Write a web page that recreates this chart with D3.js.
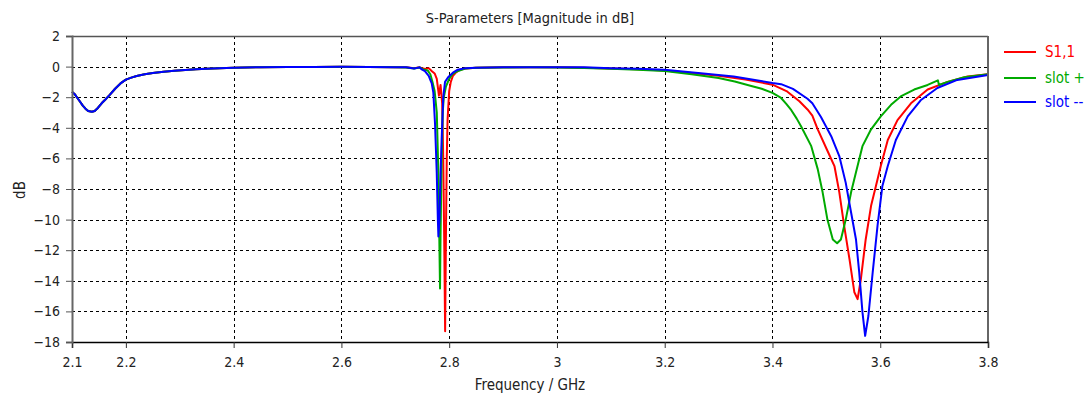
<!DOCTYPE html>
<html>
<head>
<meta charset="utf-8">
<script src="https://cdn.jsdelivr.net/npm/d3@7"></script>
<style>
  html, body { margin: 0; padding: 0; background: #fff; }
  svg { display: block; }
  text { font-family: Tahoma, "DejaVu Sans Condensed", "DejaVu Sans", sans-serif; }
</style>
</head>
<body>
<svg id="chart" width="1088" height="399"></svg>
<script>
// ---- data (frequency in GHz, magnitude in dB) ----
const title = "S-Parameters [Magnitude in dB]";
const xLabel = "Frequency / GHz";
const yLabel = "dB";
const xTicks = [2.1, 2.2, 2.4, 2.6, 2.8, 3, 3.2, 3.4, 3.6, 3.8];
const yTicks = [2, 0, -2, -4, -6, -8, -10, -12, -14, -16, -18];
const seriesNames = ["S1,1", "slot +", "slot --"];
const seriesColors = ["#ff0000", "#00aa00", "#0000ff"];

const lowBand = [
  [2.100,-1.65],[2.105,-1.8],[2.110,-2.05],[2.115,-2.3],[2.120,-2.55],[2.125,-2.75],
  [2.130,-2.9],[2.137,-2.95],[2.142,-2.9],[2.148,-2.7],[2.155,-2.4],[2.162,-2.15],
  [2.170,-1.85],[2.180,-1.45],[2.190,-1.1],[2.200,-0.85],[2.210,-0.72],[2.220,-0.62],
  [2.235,-0.5],[2.250,-0.42],[2.270,-0.33],[2.290,-0.27],[2.310,-0.22],[2.330,-0.17],
  [2.360,-0.12],[2.400,-0.07],[2.450,-0.04],[2.500,-0.03],[2.550,-0.02],[2.600,-0.01],
  [2.650,-0.02],[2.700,-0.04]
];

const s11 = [
  [2.72,-0.05],[2.735,-0.1],[2.745,-0.05],[2.755,-0.15],[2.762,-0.1],[2.768,-0.3],
  [2.773,-0.45],[2.777,-0.8],[2.781,-1.9],[2.784,-1.2],[2.787,-2.4],[2.789,-6],
  [2.791,-12],[2.7925,-17.3],[2.794,-11],[2.7955,-6],[2.797,-3.5],[2.8,-1.6],
  [2.803,-1.0],[2.807,-0.6],[2.812,-0.4],[2.82,-0.2],[2.83,-0.12],[2.85,-0.08],
  [2.9,-0.05],[2.95,-0.04],[3.0,-0.05],[3.05,-0.07],[3.1,-0.12],[3.15,-0.18],
  [3.2,-0.26],[3.25,-0.42],[3.3,-0.6],[3.35,-0.85],[3.4,-1.18],[3.426,-1.6],
  [3.45,-2.26],[3.465,-2.8],[3.474,-3.2],[3.484,-4.1],[3.502,-5.5],[3.515,-6.5],
  [3.524,-8.2],[3.533,-10.4],[3.543,-12.6],[3.552,-14.75],[3.558,-15.2],[3.564,-13.9],
  [3.573,-11.3],[3.583,-9.1],[3.592,-7.8],[3.601,-6.5],[3.614,-4.8],[3.632,-3.5],
  [3.657,-2.4],[3.688,-1.5],[3.725,-1.0],[3.762,-0.65],[3.8,-0.5]
];

const slotPlus = [
  [2.72,-0.06],[2.735,-0.12],[2.745,-0.06],[2.752,-0.18],[2.76,-0.25],[2.765,-0.5],
  [2.769,-1.0],[2.773,-1.6],[2.777,-3],[2.78,-7],[2.782,-12],[2.783,-14.5],
  [2.784,-11],[2.786,-6],[2.788,-3],[2.79,-2.0],[2.794,-1.3],[2.8,-0.8],
  [2.806,-0.5],[2.815,-0.3],[2.83,-0.12],[2.85,-0.08],[2.9,-0.06],[2.95,-0.05],
  [3.0,-0.06],[3.05,-0.09],[3.1,-0.14],[3.15,-0.2],[3.2,-0.28],[3.25,-0.5],
  [3.3,-0.75],[3.33,-0.97],[3.359,-1.25],[3.38,-1.45],[3.4,-1.72],[3.416,-2.05],
  [3.426,-2.45],[3.435,-2.85],[3.445,-3.4],[3.453,-3.9],[3.472,-5.2],[3.484,-6.7],
  [3.493,-8.2],[3.502,-10],[3.512,-11.3],[3.52,-11.55],[3.527,-11.3],[3.536,-10],
  [3.546,-8.2],[3.555,-6.9],[3.567,-5.2],[3.583,-4.1],[3.601,-3.25],[3.62,-2.5],
  [3.638,-1.95],[3.663,-1.5],[3.688,-1.2],[3.707,-0.9],[3.709,-1.2],[3.725,-1.0],
  [3.756,-0.7],[3.8,-0.5]
];

const slotMinus = [
  [2.72,-0.05],[2.735,-0.12],[2.745,-0.05],[2.75,-0.2],[2.755,-0.3],[2.762,-0.6],
  [2.7676,-1.1],[2.7706,-1.7],[2.7737,-3.7],[2.7769,-6.9],[2.779,-10],[2.780,-11.1],
  [2.782,-10],[2.784,-7],[2.786,-4.8],[2.789,-2.0],[2.7923,-1.0],[2.798,-0.7],
  [2.807,-0.4],[2.816,-0.2],[2.83,-0.1],[2.85,-0.07],[2.9,-0.05],[2.95,-0.04],
  [3.0,-0.04],[3.05,-0.05],[3.1,-0.1],[3.15,-0.14],[3.2,-0.2],[3.267,-0.43],
  [3.328,-0.65],[3.359,-0.82],[3.4,-1.07],[3.416,-1.15],[3.438,-1.46],[3.465,-2.1],
  [3.474,-2.4],[3.49,-3.3],[3.509,-4.55],[3.524,-5.85],[3.536,-7.6],[3.546,-9.55],
  [3.555,-11.3],[3.561,-13.45],[3.567,-16.05],[3.572,-17.6],[3.578,-16.3],[3.586,-13.45],
  [3.595,-10.4],[3.604,-7.8],[3.614,-6.5],[3.629,-4.8],[3.651,-3.25],[3.675,-2.2],
  [3.706,-1.4],[3.743,-0.87],[3.8,-0.55]
];

// ---- layout ----
const svg = d3.select("#chart");
const plot = { left: 72, right: 988, top: 36, bottom: 342 };

const x = d3.scaleLinear().domain([2.1, 3.8]).range([plot.left, plot.right]);
const y = d3.scaleLinear().domain([-18, 2]).range([plot.bottom, plot.top]);

svg.append("rect").attr("width", 1088).attr("height", 399).attr("fill", "#fff");

// grid
const grid = svg.append("g").attr("stroke", "#000").attr("stroke-width", 1)
  .attr("stroke-dasharray", "3,3").attr("shape-rendering", "crispEdges");
grid.selectAll("line.v").data(xTicks.slice(1, -1)).join("line")
  .attr("x1", d => Math.round(x(d)) + 0.5).attr("x2", d => Math.round(x(d)) + 0.5)
  .attr("y1", plot.top).attr("y2", plot.bottom);
grid.selectAll("line.h").data(yTicks.slice(1, -1)).join("line")
  .attr("y1", d => Math.round(y(d)) + 0.5).attr("y2", d => Math.round(y(d)) + 0.5)
  .attr("x1", plot.left).attr("x2", plot.right);

// curves
const line = d3.line().x(d => x(d[0])).y(d => y(d[1]));
const allSeries = [lowBand.concat(s11), lowBand.concat(slotPlus), lowBand.concat(slotMinus)];
svg.append("g").selectAll("path").data(allSeries).join("path")
  .attr("d", line)
  .attr("fill", "none")
  .attr("stroke", (d, i) => seriesColors[i])
  .attr("stroke-width", 2)
  .attr("stroke-linejoin", "round");

// frame
svg.append("line").attr("x1", plot.left).attr("x2", plot.right).attr("y1", plot.top + 0.5).attr("y2", plot.top + 0.5)
  .attr("stroke", "#555").attr("stroke-width", 1.5);
svg.append("line").attr("x1", plot.right).attr("x2", plot.right).attr("y1", plot.top).attr("y2", plot.bottom)
  .attr("stroke", "#666").attr("stroke-width", 2);

// axes
const xAxis = d3.axisBottom(x).tickValues(xTicks).tickSize(6).tickPadding(9)
  .tickFormat(d3.format("~g"));
const gx = svg.append("g").attr("transform", `translate(0,${plot.bottom})`).call(xAxis);
gx.select(".domain").attr("stroke", "#000").attr("stroke-width", 1.5);
gx.selectAll(".tick line").attr("stroke", "#333");
gx.selectAll("text").attr("font-size", 14).attr("fill", "#222");

const yAxis = d3.axisLeft(y).tickValues(yTicks).tickSize(6).tickPadding(6)
  .tickFormat(d3.format("~g"));
const gy = svg.append("g").attr("transform", `translate(${plot.left},0)`).call(yAxis);
gy.select(".domain").attr("stroke", "#666").attr("stroke-width", 2);
gy.selectAll(".tick line").attr("stroke", "#555");
gy.selectAll("text").attr("font-size", 14).attr("fill", "#222");

// titles
svg.append("text").attr("x", (plot.left + plot.right) / 2).attr("y", 23)
  .attr("text-anchor", "middle").attr("font-size", 14.5).attr("fill", "#222").text(title);
svg.append("text").attr("x", (plot.left + plot.right) / 2).attr("y", 390)
  .attr("text-anchor", "middle").attr("font-size", 15).attr("fill", "#222").text(xLabel);
svg.append("text").attr("transform", "translate(25,190) rotate(-90)")
  .attr("text-anchor", "middle").attr("font-size", 15).attr("fill", "#222").text(yLabel);

// legend
const legendY = [52, 78, 102];
const lg = svg.append("g");
seriesNames.forEach((name, i) => {
  lg.append("line").attr("x1", 1004).attr("x2", 1036)
    .attr("y1", legendY[i]).attr("y2", legendY[i])
    .attr("stroke", seriesColors[i]).attr("stroke-width", 2);
  lg.append("text").attr("x", 1045).attr("y", legendY[i] + 5)
    .attr("font-size", 15).attr("fill", seriesColors[i]).text(name);
});
</script>
</body>
</html>
